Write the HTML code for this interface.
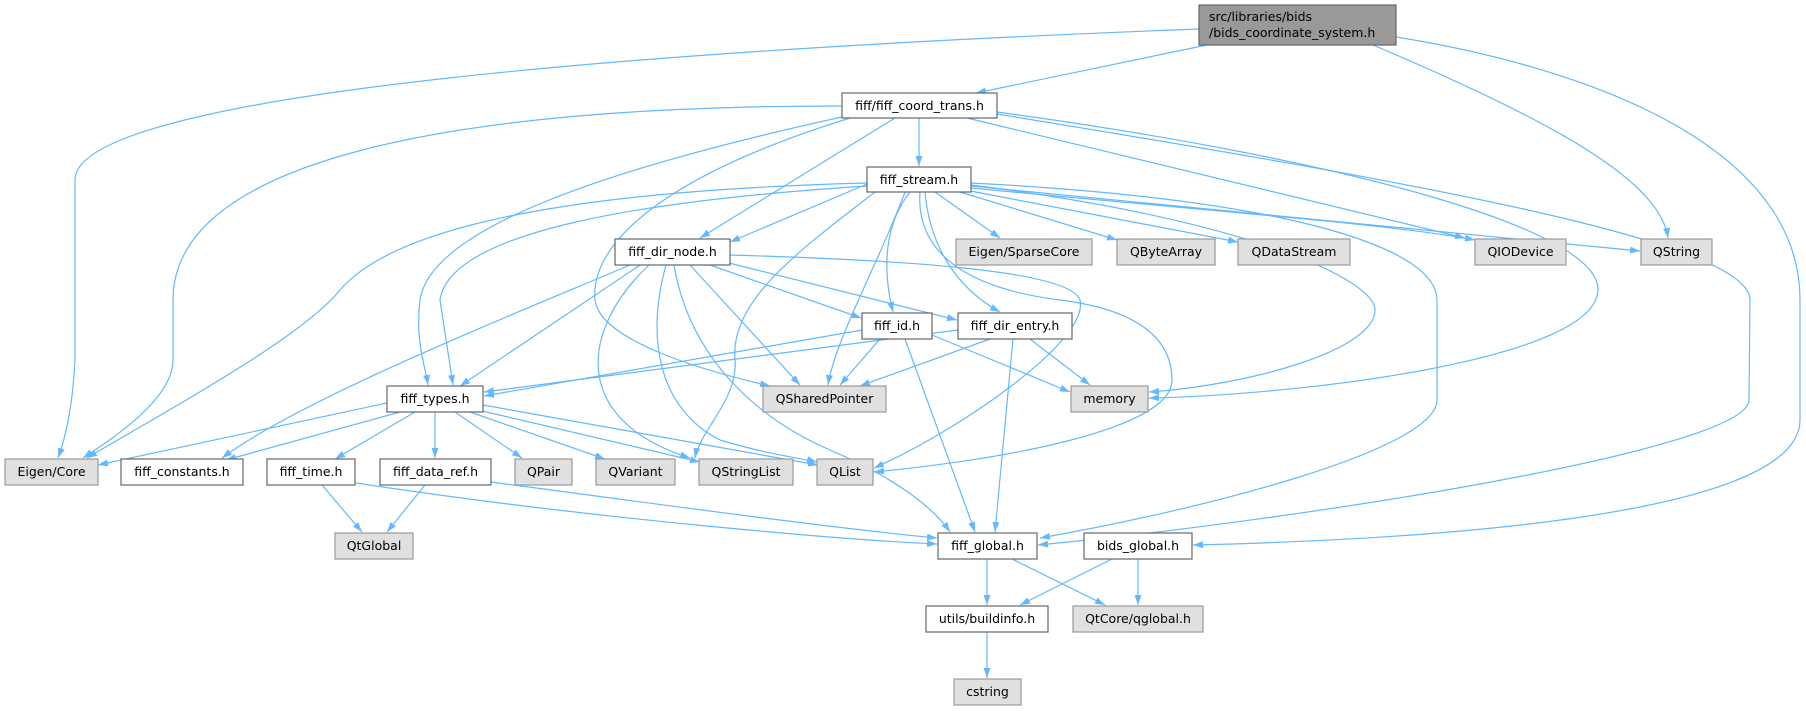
<!DOCTYPE html>
<html><head><meta charset="utf-8"><style>
html,body{margin:0;padding:0;background:#fff;}
svg{display:block;}
text{font-family:"DejaVu Sans","Liberation Sans",sans-serif;font-size:12.5px;fill:#000;}
.e{fill:none;stroke:#63b8ff;stroke-width:1.2;marker-end:url(#a);}
.w{fill:#fff;stroke:#666;stroke-width:1.2;}
.g{fill:#e0e0e0;stroke:#999;stroke-width:1.2;}
.r{fill:#999;stroke:#666;stroke-width:1.2;}
</style></head><body>
<svg width="1806" height="711" viewBox="0 0 1806 711" xmlns="http://www.w3.org/2000/svg">
<defs><marker id="a" markerUnits="userSpaceOnUse" markerWidth="11" markerHeight="8" refX="10" refY="3.5" orient="auto"><path d="M0,0 L10,3.5 L0,7 z" fill="#63b8ff"/></marker></defs>
<g>
<path class="e" d="M1207,45 L976,93"/>
<path class="e" d="M1199,29 C700,48 75,90 75,180 L75,360 Q72,420 58,458"/>
<path class="e" d="M1373,45 C1550,120 1660,180 1668,238"/>
<path class="e" d="M1396,37 C1600,70 1800,150 1800,300 L1800,420 C1800,520 1400,540 1193,545"/>
<path class="e" d="M919,118 L919,166"/>
<path class="e" d="M842,106 C450,106 173,160 173,300 L173,360 C173,400 110,440 83,458"/>
<path class="e" d="M842,117 C600,170 430,230 420,300 C415,340 425,365 428,385"/>
<path class="e" d="M850,118 C650,180 590,250 595,300 C600,340 700,370 770,386"/>
<path class="e" d="M895,118 L700,238"/>
<path class="e" d="M967,118 L1465,238"/>
<path class="e" d="M997,112 C1350,160 1600,230 1598,290 C1596,360 1300,395 1149,398"/>
<path class="e" d="M997,114 C1400,180 1750,240 1750,300 L1749,400 C1749,450 1300,520 1038,545"/>
<path class="e" d="M971,183 C1300,200 1437,250 1437,300 L1437,400 C1437,450 1200,510 1040,538"/>
<path class="e" d="M971,185 C1250,220 1375,280 1375,310 C1375,350 1250,385 1149,392"/>
<path class="e" d="M867,184 L730,242"/>
<path class="e" d="M867,183 C600,190 400,220 340,290 C300,340 150,420 87,458"/>
<path class="e" d="M867,186 C650,200 450,230 440,300 L453,385"/>
<path class="e" d="M905,192 C880,260 835,340 828,385"/>
<path class="e" d="M875,192 C800,250 730,300 735,360 C738,400 700,430 695,458"/>
<path class="e" d="M910,192 C880,230 885,280 893,312"/>
<path class="e" d="M925,192 C930,250 960,290 1000,312"/>
<path class="e" d="M935,192 L1000,238"/>
<path class="e" d="M960,192 L1117,240"/>
<path class="e" d="M965,190 L1238,242"/>
<path class="e" d="M971,188 C1200,210 1400,225 1475,240"/>
<path class="e" d="M971,186 L1640,251"/>
<path class="e" d="M920,192 C915,260 980,290 1060,300 C1140,310 1172,340 1172,380 C1172,430 1000,460 874,472"/>
<path class="e" d="M640,265 L460,386"/>
<path class="e" d="M630,265 C500,320 300,400 222,458"/>
<path class="e" d="M649,265 C580,330 570,420 690,458"/>
<path class="e" d="M666,265 C645,340 660,410 720,440 C770,455 800,458 817,462"/>
<path class="e" d="M674,265 C690,360 760,420 830,450 C900,480 935,510 950,532"/>
<path class="e" d="M690,265 L800,385"/>
<path class="e" d="M710,265 L861,318"/>
<path class="e" d="M725,262 L957,320"/>
<path class="e" d="M730,255 C900,260 1070,270 1080,300 C1090,340 960,430 874,468"/>
<path class="e" d="M862,330 L484,396"/>
<path class="e" d="M880,339 L840,385"/>
<path class="e" d="M932,335 L1070,392"/>
<path class="e" d="M905,339 L975,532"/>
<path class="e" d="M958,330 L484,392"/>
<path class="e" d="M990,339 L860,386"/>
<path class="e" d="M1030,339 L1090,385"/>
<path class="e" d="M1013,339 L995,532"/>
<path class="e" d="M387,403 L98,465"/>
<path class="e" d="M400,412 L226,460"/>
<path class="e" d="M415,412 L335,459"/>
<path class="e" d="M435,412 L435,458"/>
<path class="e" d="M455,412 L522,458"/>
<path class="e" d="M470,412 L605,459"/>
<path class="e" d="M478,410 L700,462"/>
<path class="e" d="M483,405 L818,465"/>
<path class="e" d="M322,485 L362,532"/>
<path class="e" d="M356,483 C600,520 850,540 937,544"/>
<path class="e" d="M425,485 L387,532"/>
<path class="e" d="M491,482 C700,510 850,530 937,538"/>
<path class="e" d="M987,559 L987,605"/>
<path class="e" d="M1012,559 L1105,605"/>
<path class="e" d="M1112,559 L1020,605"/>
<path class="e" d="M1138,559 L1138,605"/>
<path class="e" d="M987,632 L987,678"/>
</g>
<g>
<rect class="r" x="1199" y="5" width="197" height="40"/>
<text x="1209" y="21">src/libraries/bids</text>
<text x="1209" y="37">/bids_coordinate_system.h</text>

<rect class="w" x="842" y="93" width="155" height="25"/><text x="919.5" y="110" text-anchor="middle">fiff/fiff_coord_trans.h</text>
<rect class="w" x="867" y="167" width="104" height="25"/><text x="919" y="184" text-anchor="middle">fiff_stream.h</text>
<rect class="w" x="615" y="239" width="115" height="26"/><text x="672.5" y="256" text-anchor="middle">fiff_dir_node.h</text>
<rect class="g" x="956" y="239" width="136" height="26"/><text x="1024" y="256" text-anchor="middle">Eigen/SparseCore</text>
<rect class="g" x="1117" y="239" width="98" height="26"/><text x="1166" y="256" text-anchor="middle">QByteArray</text>
<rect class="g" x="1238" y="239" width="112" height="26"/><text x="1294" y="256" text-anchor="middle">QDataStream</text>
<rect class="g" x="1475" y="239" width="91" height="26"/><text x="1520.5" y="256" text-anchor="middle">QIODevice</text>
<rect class="g" x="1641" y="239" width="71" height="26"/><text x="1676.5" y="256" text-anchor="middle">QString</text>
<rect class="w" x="862" y="313" width="70" height="26"/><text x="897" y="330" text-anchor="middle">fiff_id.h</text>
<rect class="w" x="958" y="313" width="114" height="26"/><text x="1015" y="330" text-anchor="middle">fiff_dir_entry.h</text>
<rect class="w" x="387" y="386" width="96" height="26"/><text x="435" y="403" text-anchor="middle">fiff_types.h</text>
<rect class="g" x="763" y="386" width="123" height="26"/><text x="824.5" y="403" text-anchor="middle">QSharedPointer</text>
<rect class="g" x="1071" y="386" width="77" height="26"/><text x="1109.5" y="403" text-anchor="middle">memory</text>
<rect class="g" x="5" y="459" width="93" height="26"/><text x="51.5" y="476" text-anchor="middle">Eigen/Core</text>
<rect class="w" x="121" y="459" width="122" height="26"/><text x="182" y="476" text-anchor="middle">fiff_constants.h</text>
<rect class="w" x="267" y="459" width="88" height="26"/><text x="311" y="476" text-anchor="middle">fiff_time.h</text>
<rect class="w" x="380" y="459" width="111" height="26"/><text x="435.5" y="476" text-anchor="middle">fiff_data_ref.h</text>
<rect class="g" x="515" y="459" width="57" height="26"/><text x="543.5" y="476" text-anchor="middle">QPair</text>
<rect class="g" x="596" y="459" width="79" height="26"/><text x="635.5" y="476" text-anchor="middle">QVariant</text>
<rect class="g" x="699" y="459" width="94" height="26"/><text x="746" y="476" text-anchor="middle">QStringList</text>
<rect class="g" x="817" y="459" width="56" height="26"/><text x="845" y="476" text-anchor="middle">QList</text>
<rect class="g" x="335" y="533" width="78" height="26"/><text x="374" y="550" text-anchor="middle">QtGlobal</text>
<rect class="w" x="938" y="533" width="99" height="26"/><text x="987.5" y="550" text-anchor="middle">fiff_global.h</text>
<rect class="w" x="1084" y="533" width="108" height="26"/><text x="1138" y="550" text-anchor="middle">bids_global.h</text>
<rect class="w" x="926" y="606" width="122" height="26"/><text x="987" y="623" text-anchor="middle">utils/buildinfo.h</text>
<rect class="g" x="1073" y="606" width="130" height="26"/><text x="1138" y="623" text-anchor="middle">QtCore/qglobal.h</text>
<rect class="g" x="954" y="679" width="67" height="26"/><text x="987.5" y="696" text-anchor="middle">cstring</text>
</g>
</svg>
</body></html>
